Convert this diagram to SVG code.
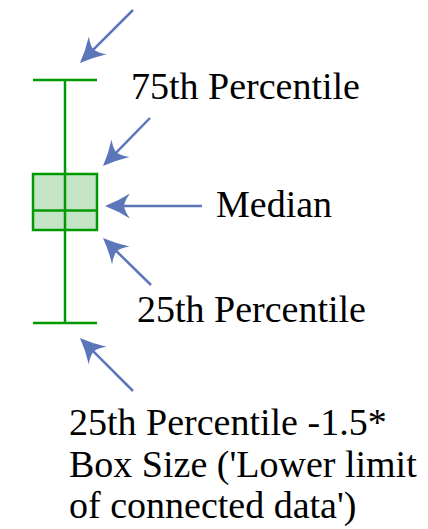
<svg xmlns="http://www.w3.org/2000/svg" width="428" height="529" viewBox="0 0 428 529">
  <style>
    .lbl { font-family: "Liberation Serif", "Times New Roman", serif; font-size: 38px; fill: #000; }
    .plot { stroke: #009a00; stroke-width: 2.5; fill: none; }
    .box { stroke: #009a00; stroke-width: 2.5; fill: #c5e4c5; }
    .arrow { stroke: #5b76b9; stroke-width: 2.5; fill: none; marker-end: url(#head); }
  </style>
  <defs>
    <marker id="head" markerUnits="userSpaceOnUse" orient="auto" refX="0" refY="0" overflow="visible">
      <path d="M15,0 Q2,-5 -10,-12.5 Q-5,-6 -4,0 Q-5,6 -10,12.5 Q2,5 15,0 Z" fill="#5b76b9"/>
    </marker>
  </defs>
  <rect width="428" height="529" fill="#ffffff"/>

  <!-- box plot -->
  <g id="boxplot">
    <line class="plot" x1="65" y1="80" x2="65" y2="323"/>
    <line class="plot" x1="33" y1="80" x2="97" y2="80"/>
    <line class="plot" x1="33" y1="323" x2="97" y2="323"/>
    <rect class="box" x="33" y="174" width="64" height="56"/>
    <line class="plot" x1="33" y1="210.5" x2="97" y2="210.5"/>
    <line class="plot" x1="65" y1="174" x2="65" y2="230"/>
  </g>

  <!-- pointers -->
  <g id="connectors">
    <line class="arrow" x1="133" y1="10" x2="90.6" y2="52.4"/>
    <line class="arrow" x1="150" y1="118" x2="113.5" y2="155.3"/>
    <line class="arrow" x1="202" y1="206" x2="120" y2="206"/>
    <line class="arrow" x1="151" y1="285" x2="113.7" y2="248.5"/>
    <line class="arrow" x1="133" y1="391" x2="90.6" y2="348.6"/>
  </g>

  <!-- labels -->
  <g id="label-75th">
    <text class="lbl" x="131" y="99">75th Percentile</text>
  </g>
  <g id="label-median">
    <text class="lbl" x="216" y="217">Median</text>
  </g>
  <g id="label-25th">
    <text class="lbl" x="137" y="322">25th Percentile</text>
  </g>
  <g id="label-lower">
    <text class="lbl" x="69" y="435">25th Percentile -1.5*</text>
    <text class="lbl" x="69" y="477">Box Size ('Lower limit</text>
    <text class="lbl" x="69" y="518">of connected data')</text>
  </g>
</svg>
